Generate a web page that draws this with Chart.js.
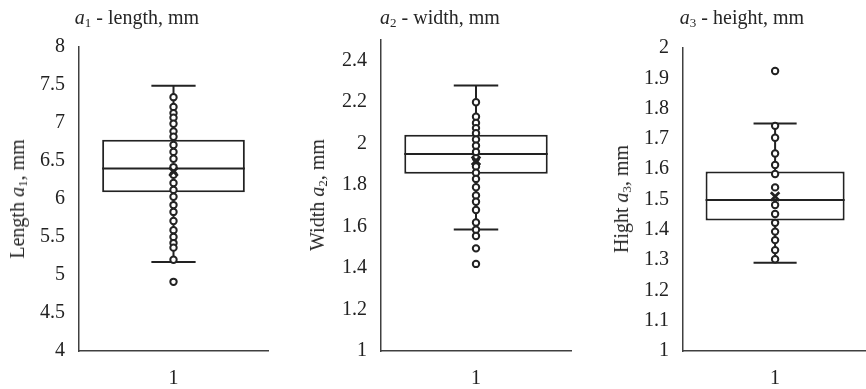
<!DOCTYPE html>
<html>
<head>
<meta charset="utf-8">
<script src="https://cdn.jsdelivr.net/npm/chart.js@4.4.1/dist/chart.umd.min.js"></script>
<style>
html,body{margin:0;padding:0;background:#fff;overflow:hidden;width:866px;height:389px;position:relative;}
.panel{position:absolute;top:0;height:389px;}
.txt{position:absolute;font-family:"Liberation Serif","Times New Roman",serif;font-size:20px;line-height:20px;color:#262626;white-space:nowrap;}
.title{top:7px;transform:translateX(-50%);}
.ytitle{transform:translate(-50%,-50%) rotate(-90deg);}
sub{font-size:0.65em;vertical-align:-0.25em;line-height:0;}
</style>
</head>
<body>
<div class="panel" style="left:0;width:290px"><canvas id="c1"></canvas></div>
<div class="panel" style="left:290px;width:290px"><canvas id="c2"></canvas></div>
<div class="panel" style="left:576px;width:300px"><canvas id="c3"></canvas></div>

<div class="txt title" style="left:137px"><i>a</i><sub>1</sub> - length, mm</div>
<div class="txt title" style="left:440px"><i>a</i><sub>2</sub> - width, mm</div>
<div class="txt title" style="left:742px"><i>a</i><sub>3</sub> - height, mm</div>
<div class="txt ytitle" style="left:17px;top:199px">Length <i>a</i><sub>1</sub>, mm</div>
<div class="txt ytitle" style="left:317px;top:195px">Width <i>a</i><sub>2</sub>, mm</div>
<div class="txt ytitle" style="left:621px;top:199px">Hight <i>a</i><sub>3</sub>, mm</div>

<script>
// ---- data ----
const categories = ['1'];

// a1 - length
const lengthPoints = [7.34, 7.21, 7.13, 7.07, 6.99, 6.89, 6.82, 6.71, 6.62, 6.53, 6.42, 6.32, 6.21, 6.12, 6.03, 5.92, 5.83, 5.71, 5.59, 5.50, 5.42, 5.36, 5.20, 4.91];
const lengthBox = [6.09, 6.78];        // Q1, Q3
const lengthMedian = [6.40];
const lengthWhiskers = [5.17, 7.49];   // lower, upper
const lengthMean = [6.36];
const lengthTicks = [4, 4.5, 5, 5.5, 6, 6.5, 7, 7.5, 8];

// a2 - width
const widthPoints = [2.20, 2.13, 2.10, 2.075, 2.05, 2.02, 1.99, 1.96, 1.93, 1.89, 1.86, 1.83, 1.79, 1.75, 1.72, 1.68, 1.62, 1.585, 1.555, 1.495, 1.42];
const widthBox = [1.855, 2.043];
const widthMedian = [1.950];
const widthWhiskers = [1.586, 2.28];
const widthMean = [1.918];
const widthTicks = [1, 1.2, 1.4, 1.6, 1.8, 2, 2.2, 2.4];

// a3 - height
const heightPoints = [1.924, 1.743, 1.704, 1.652, 1.614, 1.584, 1.540, 1.482, 1.452, 1.423, 1.394, 1.366, 1.333, 1.303];
const heightBox = [1.431, 1.592];
const heightMedian = [1.498];
const heightWhiskers = [1.291, 1.751];
const heightMean = [1.51];
const heightTicks = [1, 1.1, 1.2, 1.3, 1.4, 1.5, 1.6, 1.7, 1.8, 1.9, 2];

// ---- rendering ----
const INK = '#222222';
const AXIS = '#404040';
const FONT = {family: '"Liberation Serif", "Times New Roman", serif', size: 20};

const boxExtras = {
  id: 'boxExtras',
  afterDatasetDraw(chart, args, opts) {
    if (args.index !== 0) return;
    const bar = args.meta.data[0];
    const ys = chart.scales.y;
    const ctx = chart.ctx;
    const x = bar.x, w = bar.width;
    const cap = w * 0.31;
    ctx.save();
    ctx.strokeStyle = INK;
    ctx.lineWidth = 2;
    ctx.beginPath();
    const ym = ys.getPixelForValue(opts.median);
    ctx.moveTo(x - w / 2, ym); ctx.lineTo(x + w / 2, ym);
    const yq1 = ys.getPixelForValue(opts.box[0]);
    const yq3 = ys.getPixelForValue(opts.box[1]);
    const ylo = ys.getPixelForValue(opts.whiskers[0]);
    const yhi = ys.getPixelForValue(opts.whiskers[1]);
    ctx.moveTo(x, yq3); ctx.lineTo(x, yhi);
    ctx.moveTo(x, yq1); ctx.lineTo(x, ylo);
    ctx.moveTo(x - cap / 2, yhi); ctx.lineTo(x + cap / 2, yhi);
    ctx.moveTo(x - cap / 2, ylo); ctx.lineTo(x + cap / 2, ylo);
    ctx.stroke();
    ctx.restore();
  }
};

function makeChart(id, p) {
  new Chart(document.getElementById(id), {
    type: 'bar',
    data: {
      labels: categories,
      datasets: [
        {
          type: 'bar',
          data: [p.box],
          backgroundColor: '#ffffff',
          borderColor: INK,
          borderWidth: 2,
          borderSkipped: false,
          barPercentage: 0.755,
          categoryPercentage: 1,
          order: 3
        },
        {
          type: 'line',
          showLine: false,
          data: p.points.map(v => ({x: categories[0], y: v})),
          pointStyle: 'circle',
          pointRadius: 3.2,
          pointBorderWidth: 2,
          pointBorderColor: INK,
          pointBackgroundColor: '#ffffff',
          order: 2
        },
        {
          type: 'line',
          showLine: false,
          data: p.mean.map(v => ({x: categories[0], y: v})),
          pointStyle: 'crossRot',
          pointRadius: 6,
          pointBorderWidth: 2.8,
          pointBorderColor: INK,
          order: 1
        }
      ]
    },
    options: {
      responsive: true,
      maintainAspectRatio: false,
      animation: false,
      events: [],
      layout: {padding: {left: 0, right: p.padRight, top: p.padTop, bottom: 0}},
      plugins: {
        legend: {display: false},
        tooltip: {enabled: false},
        boxExtras: {median: p.median[0], box: p.box, whiskers: p.whiskers}
      },
      scales: {
        x: {
          type: 'category',
          grid: {display: false, drawTicks: false},
          border: {display: true, color: AXIS, width: 1.5},
          ticks: {font: FONT, color: INK, padding: 16},
          afterFit(s) { s.height = 38; }
        },
        y: {
          min: p.ticks[0],
          max: p.axisMax,
          grid: {display: false, drawTicks: false},
          border: {display: true, color: AXIS, width: 1.5},
          afterBuildTicks(s) { s.ticks = p.ticks.map(v => ({value: v})); },
          ticks: {font: FONT, color: INK, padding: 14, callback: v => String(Math.round(v * 100) / 100)},
          afterFit(s) { s.width = p.axisWidth; }
        }
      }
    },
    plugins: [boxExtras]
  });
}

makeChart('c1', {points: lengthPoints, box: lengthBox, median: lengthMedian, whiskers: lengthWhiskers, mean: lengthMean, ticks: lengthTicks, axisMax: 8, axisWidth: 79, padRight: 22, padTop: 47});
makeChart('c2', {points: widthPoints, box: widthBox, median: widthMedian, whiskers: widthWhiskers, mean: widthMean, ticks: widthTicks, axisMax: 2.5, axisWidth: 91, padRight: 9, padTop: 40});
makeChart('c3', {points: heightPoints, box: heightBox, median: heightMedian, whiskers: heightWhiskers, mean: heightMean, ticks: heightTicks, axisMax: 2, axisWidth: 107, padRight: 3, padTop: 48});
</script>
</body>
</html>
